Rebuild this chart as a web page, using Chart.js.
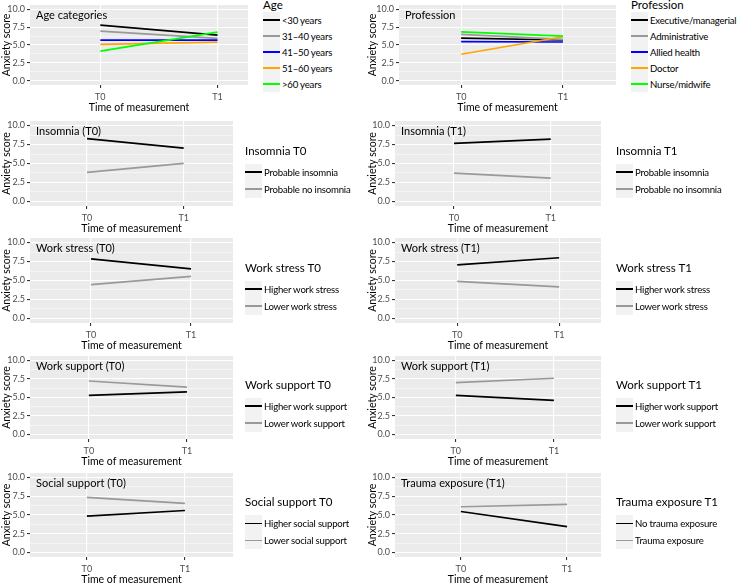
<!DOCTYPE html>
<html lang="en">
<head>
<meta charset="UTF-8">
<title>Anxiety score by group and time of measurement</title>
<script src="https://cdn.jsdelivr.net/npm/chart.js@4.4.1/dist/chart.umd.min.js"></script>
<style>
  body { margin: 0; background: #fff; font-family: Lato, sans-serif; }
  #page { position: relative; width: 738px; height: 585px; overflow: hidden; }
  .panel { position: absolute; }
  .legend { position: absolute; color: #000; }
  .legend .ttl { font-size: 11.5px; line-height: 14px; white-space: nowrap; }
  .legend.big .ttl { margin-bottom: 0; }
  .legend.small .ttl { margin-bottom: 6px; }
  .legend .item { display: flex; align-items: center; font-size: 9.6px; letter-spacing: -0.2px; white-space: nowrap; }
  .legend.big .item { height: 16px; }
  .legend.small .item { height: 17px; }
  .legend .key { width: 17px; height: 100%; background: #F2F2F2; position: relative; margin-right: 2px; flex: none; }
  .legend .key span { position: absolute; left: 0; right: 0; top: calc(50% - 0.8px); height: 1.6px; }
</style>
</head>
<body>
<div id="page"></div>

<script>
// ---- data ----
const timeLabels = ['T0', 'T1'];
const yTickValues = [0, 2.5, 5, 7.5, 10];
const yGridValues = [0, 1.25, 2.5, 3.75, 5, 6.25, 7.5, 8.75, 10];

const ageGroups = ['<30 years', '31–40 years', '41–50 years', '51–60 years', '>60 years'];
const ageT0 = [7.78, 6.94, 5.68, 5.09, 4.15];
const ageT1 = [6.39, 5.93, 5.68, 5.40, 6.80];

const professionGroups = ['Executive/managerial', 'Administrative', 'Allied health', 'Doctor', 'Nurse/midwife'];
const professionT0 = [5.95, 6.48, 5.46, 3.70, 6.85];
const professionT1 = [5.70, 5.80, 5.42, 6.16, 6.25];

const insomniaGroups = ['Probable insomnia', 'Probable no insomnia'];
const insomniaT0atT0 = [8.27, 3.82];
const insomniaT0atT1 = [7.02, 5.02];
const insomniaT1atT0 = [7.66, 3.74];
const insomniaT1atT1 = [8.20, 3.06];

const stressGroups = ['Higher work stress', 'Lower work stress'];
const stressT0atT0 = [7.84, 4.46];
const stressT0atT1 = [6.53, 5.54];
const stressT1atT0 = [7.06, 4.89];
const stressT1atT1 = [8.00, 4.16];

const workSupportGroups = ['Higher work support', 'Lower work support'];
const workSupportT0atT0 = [5.30, 7.23];
const workSupportT0atT1 = [5.76, 6.41];
const workSupportT1atT0 = [5.30, 7.00];
const workSupportT1atT1 = [4.61, 7.60];

const socialSupportGroups = ['Higher social support', 'Lower social support'];
const socialSupportT0atT0 = [4.84, 7.35];
const socialSupportT0atT1 = [5.60, 6.55];

const traumaGroups = ['No trauma exposure', 'Trauma exposure'];
const traumaT1atT0 = [5.47, 6.10];
const traumaT1atT1 = [3.45, 6.41];

// ---- styling / layout ----
const fiveColors = ['#000000', '#999999', '#0000FF', '#FFA500', '#00FF00'];
const twoColors = ['#000000', '#999999'];
const FONT = 'Lato, sans-serif';

// plot rectangles [left, right, top, bottom] in page pixels
const panels = [
  { title: 'Age categories', legendTitle: 'Age', groups: ageGroups, t0: ageT0, t1: ageT1, colors: fiveColors,
    colX: 0, plot: [30, 248, 5, 85], xr: [-0.60, 1.26], legend: [263, -2] },
  { title: 'Profession', legendTitle: 'Profession', groups: professionGroups, t0: professionT0, t1: professionT1, colors: fiveColors,
    colX: 366, plot: [399, 616, 5, 85], xr: [-0.61, 1.52], legend: [631, -2] },
  { title: 'Insomnia (T0)', legendTitle: 'Insomnia T0', groups: insomniaGroups, t0: insomniaT0atT0, t1: insomniaT0atT1, colors: twoColors,
    colX: 0, plot: [30, 233, 121, 206], xr: [-0.59, 1.51], legend: [245] },
  { title: 'Insomnia (T1)', legendTitle: 'Insomnia T1', groups: insomniaGroups, t0: insomniaT1atT0, t1: insomniaT1atT1, colors: twoColors,
    colX: 366, plot: [395, 601, 121, 206], xr: [-0.61, 1.52], legend: [616] },
  { title: 'Work stress (T0)', legendTitle: 'Work stress T0', groups: stressGroups, t0: stressT0atT0, t1: stressT0atT1, colors: twoColors,
    colX: 0, plot: [30, 233, 238, 323], xr: [-0.61, 1.42], legend: [245] },
  { title: 'Work stress (T1)', legendTitle: 'Work stress T1', groups: stressGroups, t0: stressT1atT0, t1: stressT1atT1, colors: twoColors,
    colX: 366, plot: [395, 601, 238, 323], xr: [-0.61, 1.41], legend: [616] },
  { title: 'Work support (T0)', legendTitle: 'Work support T0', groups: workSupportGroups, t0: workSupportT0atT0, t1: workSupportT0atT1, colors: twoColors,
    colX: 0, plot: [30, 233, 356, 439], xr: [-0.60, 1.47], legend: [245] },
  { title: 'Work support (T1)', legendTitle: 'Work support T1', groups: workSupportGroups, t0: workSupportT1atT0, t1: workSupportT1atT1, colors: twoColors,
    colX: 366, plot: [395, 601, 356, 439], xr: [-0.62, 1.48], legend: [616] },
  { title: 'Social support (T0)', legendTitle: 'Social support T0', groups: socialSupportGroups, t0: socialSupportT0atT0, t1: socialSupportT0atT1, colors: twoColors,
    colX: 0, plot: [30, 233, 473, 557], xr: [-0.58, 1.49], legend: [245] },
  { title: 'Trauma exposure (T1)', legendTitle: 'Trauma exposure T1', groups: traumaGroups, t0: traumaT1atT0, t1: traumaT1atT1, colors: twoColors,
    colX: 366, plot: [395, 601, 473, 557], xr: [-0.62, 1.32], legend: [616] }
];

// grey panel background
const panelBg = {
  id: 'panelBg',
  beforeDraw(chart) {
    const { ctx, chartArea: a } = chart;
    ctx.save();
    ctx.fillStyle = '#EBEBEB';
    ctx.fillRect(a.left, a.top, a.right - a.left, a.bottom - a.top);
    ctx.restore();
  }
};

// label in the top-left corner of each panel
const panelTitle = {
  id: 'panelTitle',
  afterDatasetsDraw(chart, args, opts) {
    const { ctx, chartArea: a } = chart;
    ctx.save();
    ctx.font = '11px ' + FONT;
    ctx.fillStyle = '#000';
    ctx.textBaseline = 'middle';
    ctx.fillText(opts.text, a.left + 6, a.top + 10);
    ctx.restore();
  }
};

const page = document.getElementById('page');
const isMajor = v => yTickValues.includes(v);

panels.forEach(p => {
  const [x0, x1, y0, y1] = p.plot;
  const padTop = 6, axisH = 29;

  const box = document.createElement('div');
  box.className = 'panel';
  box.style.left = p.colX + 'px';
  box.style.top = (y0 - padTop) + 'px';
  box.style.width = (x1 - p.colX + 2) + 'px';
  box.style.height = (y1 - y0 + padTop + axisH + 2) + 'px';
  const cv = document.createElement('canvas');
  box.appendChild(cv);
  page.appendChild(box);

  new Chart(cv, {
    type: 'line',
    data: {
      datasets: p.groups.map((g, j) => ({
        label: g,
        data: [{ x: 0, y: p.t0[j] }, { x: 1, y: p.t1[j] }],
        borderColor: p.colors[j],
        borderWidth: 1.7,
        pointRadius: 0,
        order: -j
      }))
    },
    options: {
      responsive: true,
      maintainAspectRatio: false,
      animation: false,
      layout: { padding: { top: padTop, right: 2, bottom: 2, left: 0 } },
      plugins: {
        legend: { display: false },
        tooltip: { enabled: false },
        panelTitle: { text: p.title }
      },
      scales: {
        x: {
          type: 'linear',
          min: p.xr[0],
          max: p.xr[1],
          afterBuildTicks: s => { s.ticks = timeLabels.map((t, k) => ({ value: k })); },
          afterFit: s => { s.height = axisH; s.paddingLeft = 0; s.paddingRight = 0; },
          ticks: { callback: v => timeLabels[v] ?? '', color: '#4D4D4D', font: { size: 9, family: FONT }, padding: 4, maxRotation: 0, autoSkip: false },
          grid: { color: '#FFFFFF', lineWidth: 1.1, tickColor: '#333333', tickLength: 3 },
          border: { display: false },
          title: { display: true, text: 'Time of measurement', color: '#000', font: { size: 10.5, family: FONT }, padding: 0 }
        },
        y: {
          type: 'linear',
          min: -0.6,
          max: 10.6,
          afterBuildTicks: s => { s.ticks = yGridValues.map(v => ({ value: v })); },
          afterFit: s => { s.width = x0 - p.colX; s.paddingTop = 0; s.paddingBottom = 0; },
          ticks: { callback: v => isMajor(v) ? v.toFixed(1) : '', color: '#4D4D4D', font: { size: 9, family: FONT }, padding: 2, autoSkip: false },
          grid: {
            color: '#FFFFFF',
            lineWidth: c => (c.tick && isMajor(c.tick.value)) ? 1.1 : 0.5,
            tickColor: c => (c.tick && isMajor(c.tick.value)) ? '#333333' : 'rgba(0,0,0,0)',
            tickLength: 3
          },
          border: { display: false },
          title: { display: true, text: 'Anxiety score', color: '#000', font: { size: 10.5, family: FONT }, padding: 0 }
        }
      }
    },
    plugins: [panelBg, panelTitle]
  });

  // legend drawn as html next to the panel
  const lg = document.createElement('div');
  const fixedTop = p.legend.length > 1;
  lg.className = 'legend ' + (fixedTop ? 'big' : 'small');
  const centre = (y0 + y1) / 2;
  lg.style.left = p.legend[0] + 'px';
  lg.style.top = (fixedTop ? p.legend[1] : centre - 20) + 'px';
  const ttl = document.createElement('div');
  ttl.className = 'ttl';
  ttl.textContent = p.legendTitle;
  lg.appendChild(ttl);
  p.groups.forEach((g, j) => {
    const item = document.createElement('div');
    item.className = 'item';
    const key = document.createElement('div');
    key.className = 'key';
    const ln = document.createElement('span');
    ln.style.background = p.colors[j];
    key.appendChild(ln);
    item.appendChild(key);
    item.appendChild(document.createTextNode(g));
    lg.appendChild(item);
  });
  page.appendChild(lg);
});
</script>
</body>
</html>
